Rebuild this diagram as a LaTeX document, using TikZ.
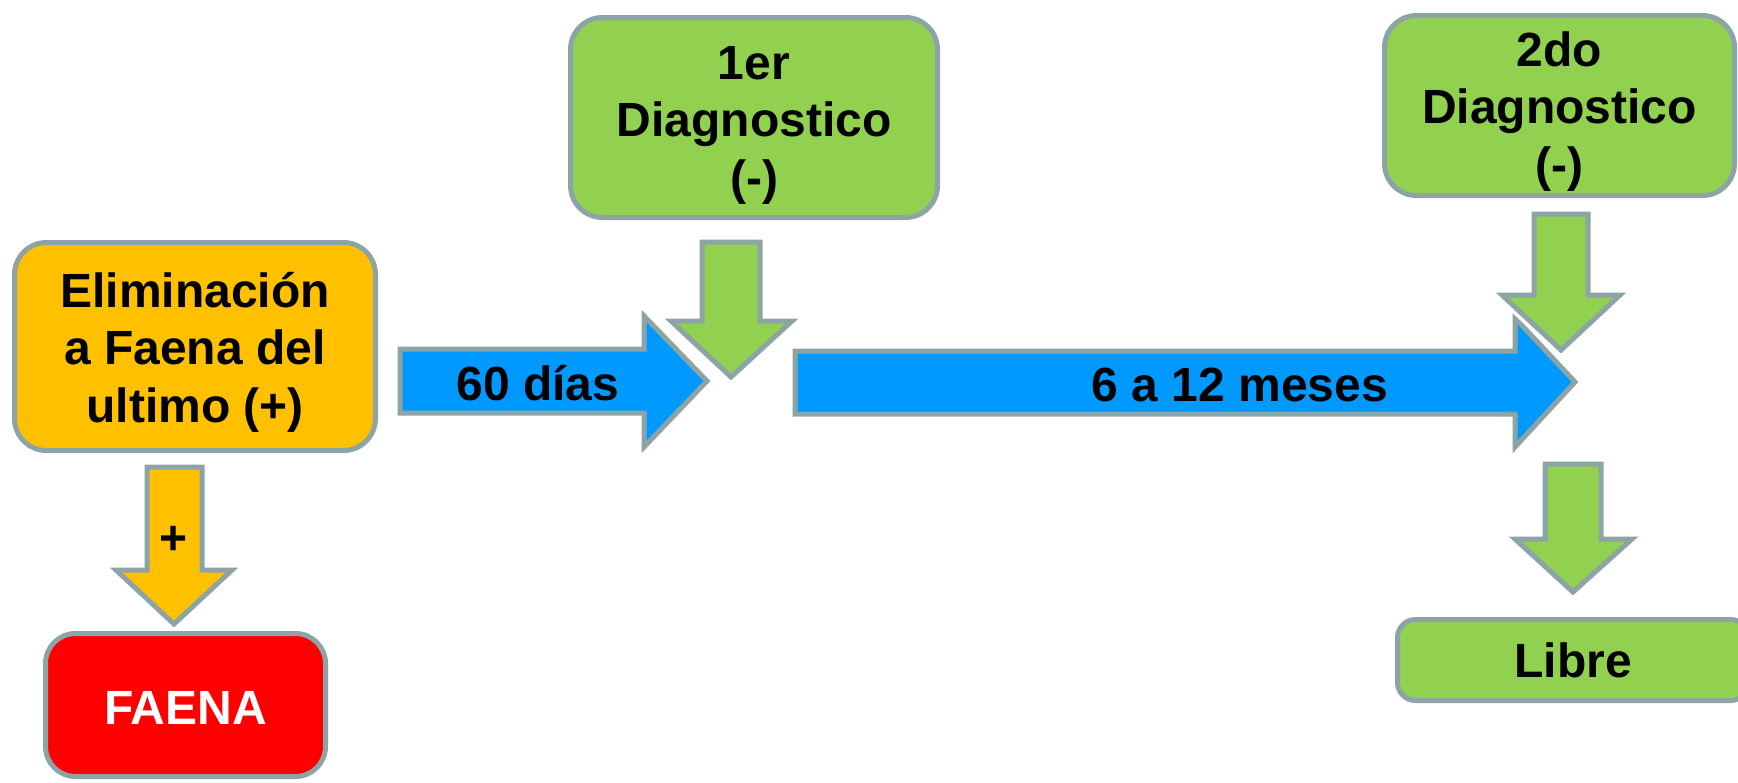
\documentclass[tikz,border=0pt]{standalone}
\usepackage{fontspec}
\setmainfont{Liberation Sans}
\definecolor{edge}{RGB}{141,164,167}
\definecolor{ygold}{RGB}{255,192,0}
\definecolor{lgreen}{RGB}{146,208,80}
\definecolor{sblue}{RGB}{0,153,255}
\definecolor{xred}{RGB}{255,0,0}
\begin{document}
\begin{tikzpicture}[x=0.5pt,y=-0.5pt,
  box/.style={draw=edge, line width=2.5pt, rounded corners=16pt, align=center,
    inner sep=0pt, font=\bfseries\fontsize{24}{28.75}\selectfont},
  threeline/.style={text height=75.5pt, text depth=0pt},
  oneline/.style={text height=19pt, text depth=0pt},
  blockarrow/.style={draw=edge, line width=2.5pt},
  overarrow/.style={blockarrow, preaction={draw=white, line width=6pt}},
  lbl/.style={font=\bfseries\fontsize{24}{28.75}\selectfont, inner sep=0pt, anchor=base}
]
\clip (0,0) rectangle (1738,782);
\fill[white] (0,0) rectangle (1738,782);

% boxes
\node[box, threeline, fill=ygold, minimum width=180.5pt, minimum height=104pt] (elim) at (195,346.5)
  {Eliminación\\a Faena del\\ultimo (+)};
\node[box, oneline, fill=xred, text=white, rounded corners=15pt, minimum width=140pt, minimum height=71.5pt] (faena) at (185.5,705) {FAENA};
\node[box, threeline, fill=lgreen, text height=76.5pt, minimum width=183.5pt, minimum height=100pt] (d1) at (754,117.5)
  {1er\\Diagnostico\\(-)};
\node[box, threeline, fill=lgreen, minimum width=175pt, minimum height=90pt] (d2) at (1559.5,105.5)
  {2do\\Diagnostico\\(-)};
\node[box, fill=lgreen, rounded corners=9pt, text height=17pt, text depth=0pt, minimum width=175.5pt, minimum height=40.5pt] (libre) at (1573,660) {Libre};

% blue horizontal arrows
\draw[blockarrow, fill=sblue] (400,349) -- (644,349) -- (644,316) -- (707,381) -- (644,447) -- (644,413) -- (400,413) -- cycle;
\draw[blockarrow, fill=sblue] (795,351) -- (1515,351) -- (1515,318) -- (1575,382) -- (1515,447) -- (1515,414) -- (795,414) -- cycle;
\node[lbl] (t60) at (538,400) {60 días};
\node[lbl] (t612) at (1240,401) {6 a 12 meses};

% down arrows
\draw[blockarrow, fill=ygold] (147,467) -- (202,467) -- (202,570) -- (232,570) -- (174,624) -- (116,570) -- (147,570) -- cycle;
\node[lbl] (plus) at (174,554) {+};
\draw[overarrow, fill=lgreen] (702,242) -- (760,242) -- (760,321) -- (792,321) -- (731,377) -- (671,321) -- (702,321) -- cycle;
\draw[overarrow, fill=lgreen] (1534,214) -- (1588,214) -- (1588,295) -- (1620,295) -- (1561,350) -- (1502,295) -- (1534,295) -- cycle;
\draw[overarrow, fill=lgreen] (1545,464) -- (1601,464) -- (1601,539) -- (1632,539) -- (1573,592) -- (1515,539) -- (1545,539) -- cycle;
\end{tikzpicture}
\end{document}
